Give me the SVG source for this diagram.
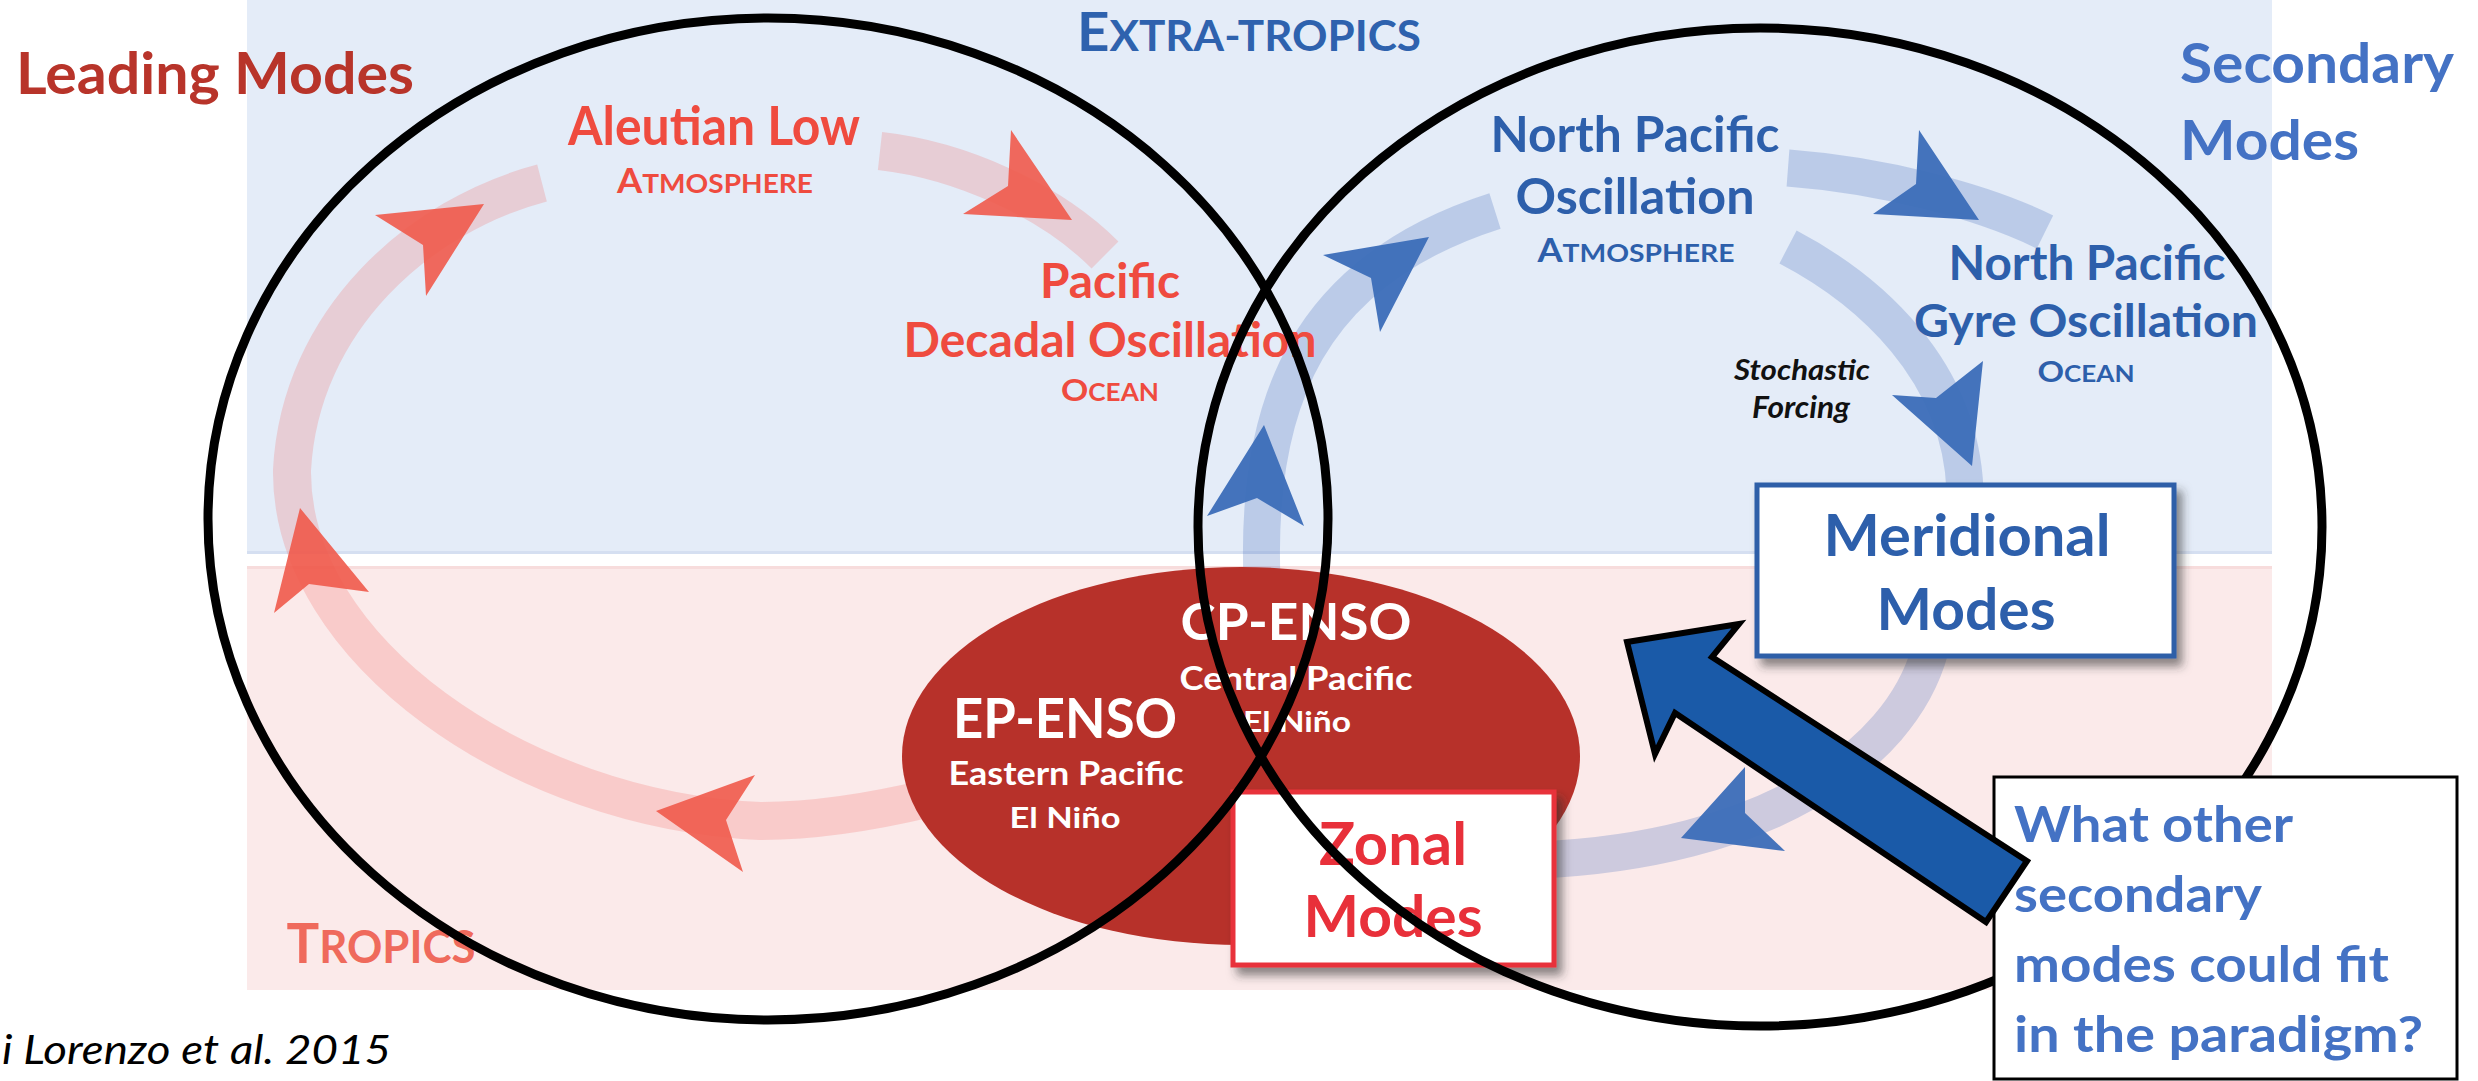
<svg xmlns="http://www.w3.org/2000/svg" width="2478" height="1081" viewBox="0 0 2478 1081">
<style>
  .t { font-family: Lato, "Open Sans", "Liberation Sans", sans-serif; font-weight: 700; }
  .mid { text-anchor: middle; }
  .dred { fill: #b8342a; }
  .off { fill: #4472c4; }
  .red { fill: #ef4b3f; }
  .blue { fill: #2d5fab; }
  .wht { fill: #ffffff; }
  .bandR { fill: none; stroke: #f0605a; stroke-opacity: 0.22; stroke-width: 38; }
  .bandB { fill: none; stroke: #3a64b8; stroke-opacity: 0.24; stroke-width: 37; }
  .headR { fill: #f05a4b; fill-opacity: 0.9; }
  .headB { fill: #3b6db8; fill-opacity: 0.95; }
  .venn { fill: none; stroke: #000000; stroke-width: 9; }
</style>
<defs>
  <filter id="shadow" x="-10%" y="-10%" width="130%" height="140%">
    <feDropShadow dx="6" dy="8" stdDeviation="5" flood-color="#333333" flood-opacity="0.55"/>
  </filter>
</defs>

<g id="background">
  <rect x="247" y="0" width="2025" height="554" fill="#e4ecf8"/>
  <rect x="247" y="551" width="2025" height="3" fill="#d5dff1"/>
  <rect x="247" y="566" width="2025" height="424" fill="#fbeaea"/>
  <rect x="247" y="566" width="2025" height="3" fill="#f7dcdc"/>
</g>

<g id="connectors">
  <!-- leading (red) cycle bands -->
  <path class="bandR" d="M 542 183 C 420 215, 300 320, 292 470 C 290 650, 520 810, 760 821 C 820 821, 880 810, 930 798"/>
  <path class="bandR" d="M 880 151 C 960 160, 1050 200, 1105 255"/>
  <!-- secondary (blue) cycle bands -->
  <path class="bandB" d="M 1262 580 C 1255 400, 1310 270, 1495 211"/>
  <path class="bandB" d="M 1788 168 C 1880 175, 1980 200, 2045 232"/>
  <path class="bandB" d="M 1788 247 C 1870 290, 1960 370, 1965 490"/>
  <path class="bandB" d="M 1930 650 C 1900 760, 1760 850, 1540 860"/>
  <!-- arrowheads -->
  <polygon class="headR" points="1072,220 1011,130 1008,186 963,214"/>
  <polygon class="headR" points="484,204 375,215 423,245 426,296"/>
  <polygon class="headR" points="300,508 274,613 309,584 369,592"/>
  <polygon class="headR" points="656,811 755,775 726,820 743,872"/>
  <polygon class="headB" points="1264,425 1207,516 1257,498 1304,526"/>
  <polygon class="headB" points="1429,237 1323,255 1371,278 1380,332"/>
  <polygon class="headB" points="1979,220 1919,130 1916,184 1873,214"/>
  <polygon class="headB" points="1972,466 1892,395 1936,398 1983,361"/>
  <polygon class="headB" points="1681,838 1745,767 1745,813 1785,851"/>
</g>

<g id="region-labels">
  <text class="t" x="1249" y="51" textLength="344" lengthAdjust="spacingAndGlyphs" text-anchor="middle" fill="#2e62ae"><tspan font-size="54">E</tspan><tspan font-size="42">XTRA-TROPICS</tspan></text>
  <text class="t" x="381" y="963" textLength="189" lengthAdjust="spacingAndGlyphs" text-anchor="middle" fill="#ef6a5c"><tspan font-size="56">T</tspan><tspan font-size="45">ROPICS</tspan></text>
</g>

<g id="node-aleutian-low">
  <text class="t red mid" x="714" y="145" font-size="53" textLength="292" lengthAdjust="spacingAndGlyphs">Aleutian Low</text>
  <text class="t red mid" x="715" y="193" textLength="196" lengthAdjust="spacingAndGlyphs"><tspan font-size="35">A</tspan><tspan font-size="27">TMOSPHERE</tspan></text>
</g>

<g id="node-pdo">
  <text class="t red mid" x="1110" y="298" font-size="47" textLength="140" lengthAdjust="spacingAndGlyphs">Pacific</text>
  <text class="t red mid" x="1110" y="357" font-size="47" textLength="413" lengthAdjust="spacingAndGlyphs">Decadal Oscillation</text>
  <text class="t red mid" x="1110" y="401" textLength="98" lengthAdjust="spacingAndGlyphs"><tspan font-size="31">O</tspan><tspan font-size="24">CEAN</tspan></text>
</g>

<g id="node-npo">
  <text class="t blue mid" x="1635" y="152" font-size="50" textLength="289" lengthAdjust="spacingAndGlyphs">North Pacific</text>
  <text class="t blue mid" x="1635" y="214" font-size="49" textLength="239" lengthAdjust="spacingAndGlyphs">Oscillation</text>
  <text class="t blue mid" x="1636" y="262" textLength="197" lengthAdjust="spacingAndGlyphs"><tspan font-size="32">A</tspan><tspan font-size="25">TMOSPHERE</tspan></text>
</g>

<g id="node-npgo">
  <text class="t blue mid" x="2087" y="280" font-size="47" textLength="277" lengthAdjust="spacingAndGlyphs">North Pacific</text>
  <text class="t blue mid" x="2086" y="337" font-size="45" textLength="344" lengthAdjust="spacingAndGlyphs">Gyre Oscillation</text>
  <text class="t blue mid" x="2086" y="382" textLength="97" lengthAdjust="spacingAndGlyphs"><tspan font-size="29">O</tspan><tspan font-size="23">CEAN</tspan></text>
</g>

<g id="label-stochastic-forcing">
  <text class="t mid" x="1802" y="380" font-size="29" font-style="italic" fill="#111111" textLength="136" lengthAdjust="spacingAndGlyphs">Stochastic</text>
  <text class="t mid" x="1801" y="418" font-size="30" font-style="italic" fill="#111111" textLength="98" lengthAdjust="spacingAndGlyphs">Forcing</text>
</g>

<g id="node-enso">
  <ellipse cx="1241" cy="756" rx="339" ry="189" fill="#b7312a"/>
  <text class="t wht mid" x="1296" y="640" font-size="52" textLength="231" lengthAdjust="spacingAndGlyphs">CP-ENSO</text>
  <text class="t wht mid" x="1296" y="690" font-size="32" textLength="233" lengthAdjust="spacingAndGlyphs">Central Pacific</text>
  <text class="t wht mid" x="1297" y="732" font-size="29" textLength="108" lengthAdjust="spacingAndGlyphs">El Niño</text>
  <text class="t wht mid" x="1065" y="738" font-size="56" textLength="224" lengthAdjust="spacingAndGlyphs">EP-ENSO</text>
  <text class="t wht mid" x="1066" y="785" font-size="32" textLength="235" lengthAdjust="spacingAndGlyphs">Eastern Pacific</text>
  <text class="t wht mid" x="1065" y="828" font-size="29" textLength="111" lengthAdjust="spacingAndGlyphs">El Niño</text>
</g>

<g id="node-meridional-modes">
  <rect x="1757" y="485" width="417" height="171" fill="#ffffff" stroke="#2e5fa8" stroke-width="5" filter="url(#shadow)"/>
  <text class="t blue mid" x="1967" y="556" font-size="58" textLength="287" lengthAdjust="spacingAndGlyphs">Meridional</text>
  <text class="t blue mid" x="1966" y="630" font-size="58" textLength="179" lengthAdjust="spacingAndGlyphs">Modes</text>
</g>

<g id="node-zonal-modes">
  <rect x="1233" y="792" width="321" height="173" fill="#ffffff" stroke="#e8323a" stroke-width="5" filter="url(#shadow)"/>
  <text class="t mid" x="1393" y="865" font-size="59" fill="#e8303a" textLength="148" lengthAdjust="spacingAndGlyphs">Zonal</text>
  <text class="t mid" x="1393" y="937" font-size="57" fill="#e8303a" textLength="179" lengthAdjust="spacingAndGlyphs">Modes</text>
</g>

<g id="venn">
  <ellipse class="venn" cx="768" cy="519" rx="560" ry="501"/>
  <ellipse class="venn" cx="1760" cy="527" rx="562" ry="499"/>
</g>

<g id="title-leading">
  <text class="t dred" x="16" y="94" font-size="58" textLength="398" lengthAdjust="spacingAndGlyphs">Leading Modes</text>
</g>

<g id="title-secondary">
  <text class="t off" x="2180" y="83" font-size="56" textLength="274" lengthAdjust="spacingAndGlyphs">Secondary</text>
  <text class="t off" x="2180" y="160" font-size="56" textLength="179" lengthAdjust="spacingAndGlyphs">Modes</text>
</g>

<g id="citation">
  <text x="2" y="1064" font-family="Lato, 'Open Sans', 'Liberation Sans', sans-serif" font-style="italic" font-weight="400" font-size="40" fill="#000000" textLength="389" lengthAdjust="spacingAndGlyphs">i Lorenzo et al. 2015</text>
</g>

<g id="node-question">
  <rect x="1994" y="777" width="463" height="302" fill="#ffffff" stroke="#000000" stroke-width="3"/>
  <text class="t off" x="2014" y="842" font-size="50" textLength="279" lengthAdjust="spacingAndGlyphs">What other</text>
  <text class="t off" x="2014" y="912" font-size="50" textLength="248" lengthAdjust="spacingAndGlyphs">secondary</text>
  <text class="t off" x="2014" y="982" font-size="50" textLength="375" lengthAdjust="spacingAndGlyphs">modes could fit</text>
  <text class="t off" x="2014" y="1052" font-size="50" textLength="409" lengthAdjust="spacingAndGlyphs">in the paradigm?</text>
</g>

<g id="callout-arrow">
  <polygon points="1627,642 1739,624 1712,657 2027,861 1986,922 1675,713 1655,754" fill="#1a5aa8" stroke="#000000" stroke-width="6" stroke-linejoin="miter"/>
</g>
</svg>
